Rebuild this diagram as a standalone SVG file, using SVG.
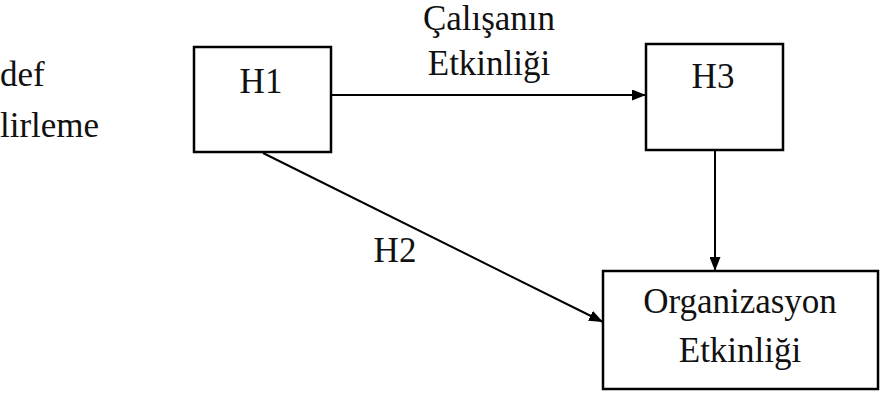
<svg xmlns="http://www.w3.org/2000/svg" width="884" height="413" viewBox="0 0 884 413">
<style>
text{font-family:"Times New Roman",Tinos,"Liberation Serif","DejaVu Serif","Noto Serif",Georgia,serif;font-size:35px;fill:#111;text-anchor:middle}
.s{text-anchor:start}
.box{fill:#fff;stroke:#000;stroke-width:2.5}
.edge{stroke:#000;stroke-width:2;fill:none}
</style>
<defs>
<marker id="ah" viewBox="0 0 14 11" refX="14" refY="5.5" markerWidth="14" markerHeight="11" markerUnits="userSpaceOnUse" orient="auto">
<path d="M0,0 L14,5.5 L0,11 Z" fill="#000"/>
</marker>
</defs>
<rect width="884" height="413" fill="#fff"/>
<g id="left-label">
<text class="s" x="0" y="86">def</text>
<text class="s" x="0" y="137">lirleme</text>
</g>
<g id="connectors">
<line class="edge" x1="332" y1="95" x2="646" y2="95" marker-end="url(#ah)"/>
<line class="edge" x1="715" y1="150" x2="715" y2="271" marker-end="url(#ah)"/>
<line class="edge" x1="263" y1="153" x2="603" y2="322" marker-end="url(#ah)"/>
<text x="489" y="30">Çalışanın</text>
<text x="489" y="75">Etkinliği</text>
<text x="395" y="262">H2</text>
</g>
<g id="H1">
<rect class="box" x="194" y="47" width="137" height="105"/>
<text x="261" y="93">H1</text>
</g>
<g id="H3">
<rect class="box" x="646" y="44" width="137" height="106"/>
<text x="713" y="88">H3</text>
</g>
<g id="org">
<rect class="box" x="603" y="271" width="275" height="118"/>
<text x="740" y="313">Organizasyon</text>
<text x="740" y="362">Etkinliği</text>
</g>
</svg>
